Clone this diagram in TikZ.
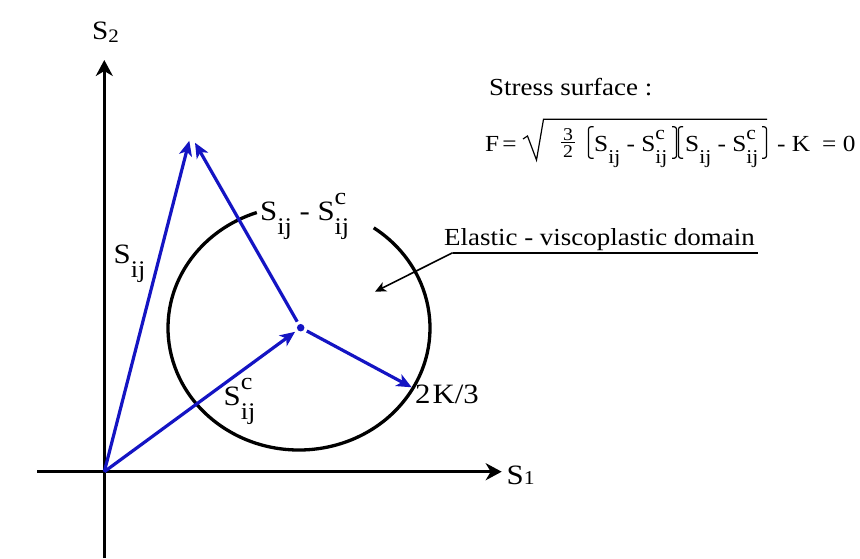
\documentclass[tikz,border=0pt]{standalone}
\usepackage{fontspec}
\usepackage{graphicx}
\setmainfont{Liberation Serif}[FakeStretch=1.1]
\usetikzlibrary{arrows.meta}
\definecolor{vblue}{RGB}{20,20,195}
\newcommand\Sij{S\raisebox{-0.5em}{\scalebox{0.85}{ij}}}
\newcommand\Sijc{S\rlap{\raisebox{0.55em}{\scalebox{0.85}{c}}}\raisebox{-0.5em}{\scalebox{0.85}{ij}}}
\begin{document}
\begin{tikzpicture}[x=1pt,y=-1pt,
  axis/.style={line width=3.3pt,-{Stealth[length=16pt,width=17pt,inset=5pt]}},
  vec/.style={draw=vblue,line width=3.2pt,-{Stealth[length=15pt,width=13pt,inset=4pt]}},
  circ/.style={line width=3.3pt},
  lbl/.style={inner sep=0pt,anchor=base west,font=\fontsize{28}{32}\selectfont},
  frm/.style={inner sep=0pt,anchor=base west,font=\fontsize{23}{27}\selectfont},
  brk/.style={line width=1.2pt,rounded corners=2.5pt},
  lead/.style={line width=1.6pt,-{Stealth[length=11pt,width=10pt,inset=3pt]}}]
\useasboundingbox (0,0) rectangle (860,558);
% axes
\coordinate (xl) at (37,471.7);
\coordinate (xr) at (501.7,471.7);
\coordinate (yb) at (104.3,558);
\coordinate (yt) at (104.3,60);
\coordinate (O) at (104.3,471.7);
\draw[axis] (xl) -- (xr);
\draw[axis] (yb) -- (yt);
\node[lbl] (s1) at (506.5,484) {S\scalebox{0.7}{1}};
\node[lbl,font=\fontsize{26.5}{30}\selectfont] (s2) at (92,39) {S\raisebox{-0.12em}{\scalebox{0.72}{2}}};
% circle
\draw[circ] ([shift={(299,328)}]-55.2:131 and 122) arc[start angle=-55.2, end angle=251.2, x radius=131, y radius=122];
% vectors
\node[circle,fill=vblue,inner sep=0pt,minimum size=7.5pt] (ctr) at (300.7,327.7) {};
\coordinate (tip1) at (189.3,140.7);
\coordinate (tip2) at (195,142.7);
\coordinate (rad) at (411.7,387.3);
\draw[vec] (O) -- (tip1);
\draw[vec,shorten <=3pt] (ctr) -- (tip2);
\draw[vec,shorten >=3pt] (O) -- (ctr);
\draw[vec,shorten <=3pt] (ctr) -- (rad);
% labels
\node[lbl] (lsij) at (113.5,263) {\Sij};
\node[lbl] (ldiff) at (260,220) {\Sij\ - \Sijc};
\node[lbl] (lsc) at (223.5,405) {\Sijc};
\node[lbl,font=\fontsize{28}{32}\selectfont] (lk) at (415,403) {2\kern2pt K/3};
% elastic domain
\node[lbl,font=\fontsize{24.5}{29}\selectfont] (ed) at (444,245) {Elastic - viscoplastic domain};
\coordinate (ulr) at (757.7,252.7);
\coordinate (ull) at (452.7,252.7);
\coordinate (edt) at (375,291.7);
\draw[line width=2pt] (ulr) -- (ull);
\draw[lead] (ull) -- (edt);
% stress surface
\node[lbl,font=\fontsize{24.5}{29}\selectfont] (ss) at (489,95) {Stress surface :};
\node[frm] (fF) at (485,151.7) {F\kern3pt=};
\coordinate (r1) at (523,139);
\coordinate (r2) at (527.5,136);
\coordinate (r3) at (536.5,160);
\coordinate (r4) at (543.5,119.3);
\coordinate (r5) at (767,119.3);
\draw[line width=1.2pt,line join=miter] (r1) -- (r2) -- (r3) -- (r4) -- (r5);
\node[frm,anchor=base,font=\fontsize{18}{20}\selectfont] (f3) at (568,140) {3};
\node[frm,anchor=base,font=\fontsize{18}{20}\selectfont] (f2) at (568,157) {2};
\coordinate (fl1) at (561,142.3);
\coordinate (fl2) at (575,142.3);
\draw[line width=1pt] (fl1) -- (fl2);
\draw[brk] (593.5,126.7) -- (588.5,126.7) -- (588.5,158.3) -- (593.5,158.3);
\draw[brk] (672,126.7) -- (676.5,126.7) -- (676.5,158.3) -- (672,158.3);
\draw[brk] (683,126.7) -- (678.5,126.7) -- (678.5,158.3) -- (683,158.3);
\draw[brk] (762,126.7) -- (766.5,126.7) -- (766.5,158.3) -- (762,158.3);
\node[frm] (fa) at (594,151.7) {\Sij\ - \Sijc};
\node[frm] (fb) at (685,151.7) {\Sij\ - \Sijc};
\node[frm] (fK) at (777,151.7) {- K};
\node[frm] (f0) at (822,151.7) {= 0};
\end{tikzpicture}
\end{document}
